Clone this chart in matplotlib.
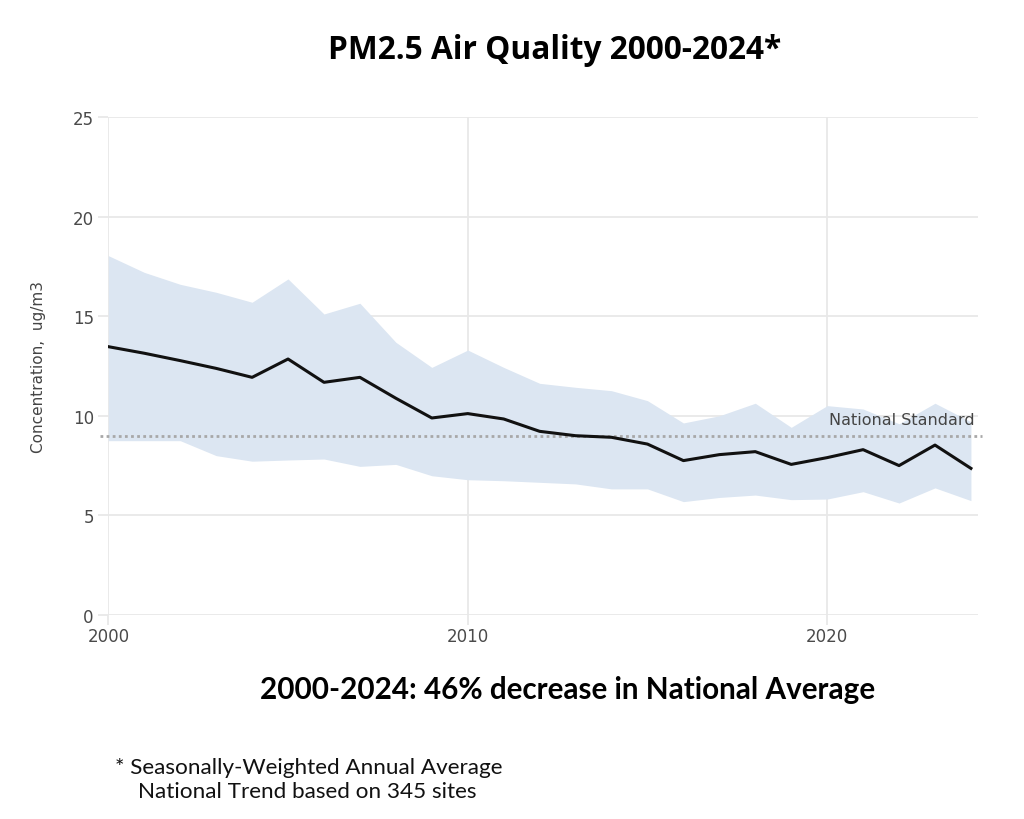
import matplotlib
matplotlib.use("Agg")
import matplotlib.pyplot as plt

years = list(range(2000, 2025))
national_avg = [13.47, 13.14, 12.77, 12.38, 11.93, 12.85, 11.68, 11.93, 10.88, 9.89,
                10.11, 9.84, 9.22, 9.0, 8.92, 8.58, 7.75, 8.05, 8.2, 7.56,
                7.9, 8.3, 7.5, 8.53, 7.36]
upper_band = [18.04, 17.2, 16.6, 16.2, 15.7, 16.87, 15.11, 15.65, 13.69, 12.43,
              13.3, 12.43, 11.63, 11.43, 11.26, 10.76, 9.64, 10.0, 10.63, 9.42,
              10.51, 10.34, 9.6, 10.63, 9.7]
lower_band = [8.75, 8.75, 8.75, 8.0, 7.72, 7.78, 7.83, 7.46, 7.56, 6.99,
              6.79, 6.74, 6.66, 6.58, 6.33, 6.33, 5.69, 5.9, 6.02, 5.79,
              5.82, 6.19, 5.62, 6.38, 5.74]
national_standard = 9.0
x_ticks = [2000, 2010, 2020]
y_ticks = [0, 5, 10, 15, 20, 25]

fig = plt.figure(figsize=(10.24, 8.2), dpi=100)
ax = fig.add_axes([0.1058, 0.2488, 0.8494, 0.6073])

grid_c = "#e8e8e8"
ax.fill_between(years, lower_band, upper_band, color="#dce6f2", linewidth=0, zorder=2)
ax.plot(years, national_avg, color="#111111", linewidth=2.2, zorder=4)
ax.axhline(national_standard, xmin=-0.01, xmax=1.005, color="#a8a8a8",
           linestyle=(0, (1, 1.2)), linewidth=2.0, clip_on=False, zorder=3)
ax.text(2024.1, national_standard + 0.45, "National Standard", ha="right", va="bottom",
        fontsize=11.5, color="#444444", family="DejaVu Sans", zorder=5)

ax.set_xlim(2000, 2024.2)
ax.set_ylim(0, 25)
ax.set_xticks(x_ticks)
ax.set_yticks(y_ticks)
ax.grid(True, color=grid_c, linewidth=1.3, zorder=0)
ax.set_axisbelow(True)
for s in ax.spines.values():
    s.set_visible(False)
ax.tick_params(axis="both", colors=grid_c, labelcolor="#4a4a4a", labelsize=12,
               length=7, width=1.3)
ax.tick_params(axis="x", pad=2)
ax.set_ylabel("Concentration,  ug/m3", fontsize=11, color="#444444", labelpad=19)

fig.text(0.542, 0.939, "PM2.5 Air Quality 2000-2024*", ha="center", va="center",
         fontsize=22.8, fontweight="bold", family="Open Sans", color="black")
fig.text(0.554, 0.159, "2000-2024: 46% decrease in National Average", ha="center",
         va="center", fontsize=21.3, fontweight="bold", family="Lato", color="black")
fig.text(0.112, 0.049, "* Seasonally-Weighted Annual Average\n    National Trend based on 345 sites",
         ha="left", va="center", fontsize=16.2, family="Lato", color="#111111",
         linespacing=1.28)

fig.savefig("out.png", dpi=100)
